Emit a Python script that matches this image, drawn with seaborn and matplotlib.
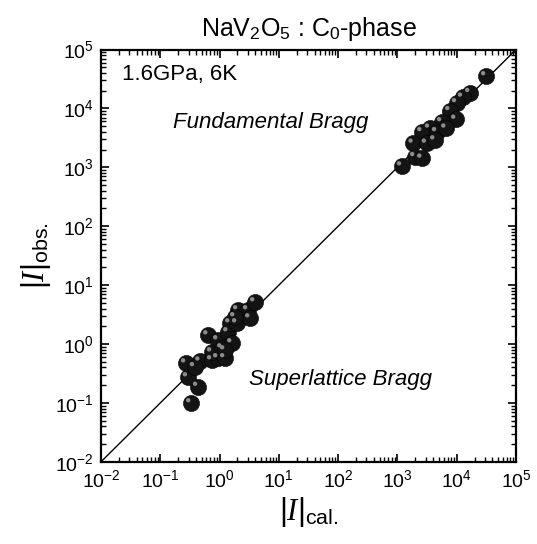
import numpy as np
import pandas as pd
import matplotlib
matplotlib.use("Agg")
import matplotlib.pyplot as plt
import matplotlib.transforms as mtransforms
from matplotlib.ticker import LogLocator, NullFormatter
import seaborn as sns

# ---- data ----
super_cal = [0.33, 0.43, 0.29, 0.27, 0.47, 0.64, 0.74, 0.94, 0.74, 0.94, 1.23, 1.1,
             1.39, 1.62, 1.5, 1.96, 2.04, 3.0, 3.95, 3.26, 1.82, 1.23, 0.38]
super_obs = [0.10, 0.19, 0.275, 0.475, 0.51, 1.42, 0.535, 0.58, 0.73, 1.17, 0.58, 0.855,
             1.6, 1.04, 2.27, 2.27, 3.78, 3.78, 5.16, 2.76, 2.88, 0.79, 0.41]
fund_cal = [3.1e4, 1.67e4, 1.26e4, 1.0e4, 7.7e3, 9.7e3, 5.6e3, 3.5e3, 2.6e3, 4.6e3,
            1.85e3, 3.1e3, 1.97e3, 2.6e3, 1.18e3, 4.3e3, 6.6e3]
fund_obs = [3.55e4, 1.85e4, 1.54e4, 1.24e4, 9.1e3, 6.5e3, 5.9e3, 4.6e3, 4.0e3, 4.0e3,
            2.55e3, 2.55e3, 1.51e3, 1.42e3, 1.05e3, 2.9e3, 4.6e3]
diag = [1e-2, 1e5]
tick_exps = [-2, -1, 0, 1, 2, 3, 4, 5]

df = pd.DataFrame({
    "cal": super_cal + fund_cal,
    "obs": super_obs + fund_obs,
    "kind": ["Superlattice"] * len(super_cal) + ["Fundamental"] * len(fund_cal),
})
line_df = pd.DataFrame({"x": diag, "y": diag})

sns.set_theme(style="ticks")
plt.rcParams["font.family"] = ["Liberation Sans", "DejaVu Sans"]
plt.rcParams["mathtext.fontset"] = "custom"
plt.rcParams["mathtext.rm"] = "Liberation Sans"
plt.rcParams["mathtext.it"] = "Liberation Serif:italic"
plt.rcParams["mathtext.bf"] = "Liberation Sans:bold"

fig = plt.figure(figsize=(5.37, 5.44), dpi=100)
ax = fig.add_axes([0.188, 0.151, 0.773, 0.758])

sns.lineplot(data=line_df, x="x", y="y", ax=ax, color="black", lw=1.0, zorder=2)
sns.scatterplot(data=df, x="cal", y="obs", ax=ax, color="#141414", s=135,
                edgecolor="#000000", linewidth=0.4, zorder=3, legend=False)
# small highlight to mimic shaded spheres
hl = mtransforms.offset_copy(ax.transData, fig=fig, x=-2.0, y=2.0, units="points")
ax.scatter(df["cal"], df["obs"], s=10, color="#8c8c8c", edgecolor="none",
           transform=hl, zorder=4)

ax.set_xscale("log")
ax.set_yscale("log")
ax.set_xlim(10.0 ** tick_exps[0], 10.0 ** tick_exps[-1])
ax.set_ylim(10.0 ** tick_exps[0], 10.0 ** tick_exps[-1])
ticks = [10.0 ** e for e in tick_exps]
ax.set_xticks(ticks)
ax.set_yticks(ticks)
for axis in (ax.xaxis, ax.yaxis):
    axis.set_minor_locator(LogLocator(base=10, subs=np.arange(2, 10), numticks=20))
    axis.set_minor_formatter(NullFormatter())

ax.tick_params(which="both", direction="in", top=True, right=True, color="black")
ax.tick_params(which="major", length=6, width=1.2, labelsize=14, pad=5, labelcolor="black")
ax.tick_params(which="minor", length=3.5, width=1.0)
for sp in ax.spines.values():
    sp.set_linewidth(1.6)
    sp.set_color("black")

ax.set_xlabel(r"$|I|_{\mathrm{cal.}}$", fontsize=22, labelpad=3, color="black")
ax.set_ylabel(r"$|I|_{\mathrm{obs.}}$", fontsize=22, labelpad=2, color="black")
ax.set_title(r"NaV$_2$O$_5$ : C$_0$-phase", fontsize=18, pad=10, color="black")

ax.text(0.05, 0.94, "1.6GPa, 6K", transform=ax.transAxes, fontsize=16,
        ha="left", va="center", color="black")
ax.text(0.41, 0.822, "Fundamental Bragg", transform=ax.transAxes, fontsize=16,
        style="italic", ha="center", va="center", color="black")
ax.text(0.576, 0.2, "Superlattice Bragg", transform=ax.transAxes, fontsize=16,
        style="italic", ha="center", va="center", color="black")

fig.savefig("out.png", dpi=100)
